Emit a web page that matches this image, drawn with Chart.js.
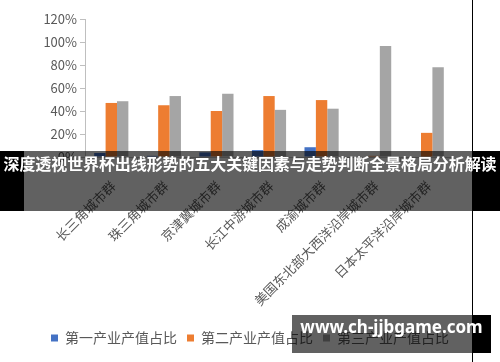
<!DOCTYPE html>
<html>
<head>
<meta charset="utf-8">
<script src="https://cdn.jsdelivr.net/npm/chart.js"></script>
<style>
  html, body { margin: 0; padding: 0; background: #fff; }
  #wrap { position: relative; width: 500px; height: 362px; overflow: hidden; }
  #c { position: absolute; left: 0; top: 0; }
  .vline { position: absolute; left: 472px; top: 0; width: 1px; height: 362px; background: #000; }
  .banner { position: absolute; left: 0; top: 151px; width: 500px; height: 60px; }
  .blk { position: absolute; top: 0; height: 100%; background: #000; }
  .gry { position: absolute; top: 0; height: 100%; background: rgba(0,0,0,0.62); }
  .btext { position: absolute; left: 0; top: 0; width: 500px; height: 60px; line-height: 60px; text-align: center;
           color: #fff; font: bold 16px "Noto Sans CJK SC", sans-serif; white-space: nowrap; letter-spacing: -0.1px; }
  .wm { position: absolute; left: 292px; top: 315px; width: 199px; height: 38px; }
  .wtext { position: absolute; left: 0; top: 0; width: 199px; height: 38px; line-height: 38px; text-align: center;
           color: #fff; font: bold 17px "Noto Sans", sans-serif; white-space: nowrap; }
</style>
</head>
<body>
<div id="wrap">
  <canvas id="c" width="500" height="362"></canvas>
  <div class="vline"></div>
  <div class="banner">
    <div class="blk" style="left:0;width:24px"></div>
    <div class="gry" style="left:24px;width:449px"></div>
    <div class="blk" style="left:473px;width:27px"></div>
    <div class="btext">深度透视世界杯出线形势的五大关键因素与走势判断全景格局分析解读</div>
  </div>
  <div class="wm">
    <div class="gry" style="left:0;width:181px"></div>
    <div class="blk" style="left:181px;width:18px"></div>
    <div class="wtext">www.ch-jjbgame.com</div>
  </div>
</div>
<script>
const categories = ["长三角城市群", "珠三角城市群", "京津冀城市群", "长江中游城市群", "成渝城市群", "美国东北部大西洋沿岸城市群", "日本太平洋沿岸城市群"];
const seriesNames = ["第一产业产值占比", "第二产业产值占比", "第三产业产值占比"];
const primaryShare = [3.5, 1, 4, 6, 8.5, 0, 0];
const secondaryShare = [47, 45, 40, 53, 49.5, 1, 21];
const tertiaryShare = [48.5, 53, 55, 41, 42, 96.5, 78];
const yTicks = [0, 20, 40, 60, 80, 100, 120];

const FONT = '"Noto Sans CJK SC", sans-serif';
new Chart(document.getElementById('c'), {
  type: 'bar',
  data: {
    labels: categories,
    datasets: [
      { label: seriesNames[0], data: primaryShare, backgroundColor: '#4472C4' },
      { label: seriesNames[1], data: secondaryShare, backgroundColor: '#ED7D31' },
      { label: seriesNames[2], data: tertiaryShare, backgroundColor: '#A5A5A5' }
    ]
  },
  options: {
    responsive: false,
    animation: false,
    devicePixelRatio: 1,
    datasets: { bar: { categoryPercentage: 0.65, barPercentage: 1.0 } },
    layout: { padding: { top: 19, right: 0, left: 0, bottom: 7 } },
    plugins: {
      tooltip: { enabled: false },
      legend: {
        position: 'bottom',
        labels: { boxWidth: 7, boxHeight: 7, padding: 10, color: '#595959', font: { family: FONT, size: 14 } }
      }
    },
    scales: {
      x: {
        grid: { offset: true, drawOnChartArea: false, drawTicks: true, tickLength: 5, color: '#bfbfbf' },
        border: { color: '#bfbfbf' },
        ticks: { minRotation: 45, maxRotation: 45, color: '#595959', font: { family: FONT, size: 13 }, padding: 16, labelOffset: 2 },
        afterFit: s => { s.height = 164; }
      },
      y: {
        min: 0, max: 120,
        afterBuildTicks: s => { s.ticks = yTicks.map(v => ({ value: v })); },
        grid: { drawOnChartArea: false, drawTicks: true, tickLength: 5, color: '#bfbfbf' },
        border: { color: '#bfbfbf' },
        ticks: { color: '#595959', font: { family: FONT, size: 13 }, padding: 3, callback: v => v + '%' },
        afterFit: s => { s.width = 85; }
      },
      yR: {
        type: 'linear',
        position: 'right',
        grid: { display: false },
        border: { display: false },
        ticks: { display: false },
        afterFit: s => { s.width = 47; }
      }
    }
  }
});
</script>
</body>
</html>
